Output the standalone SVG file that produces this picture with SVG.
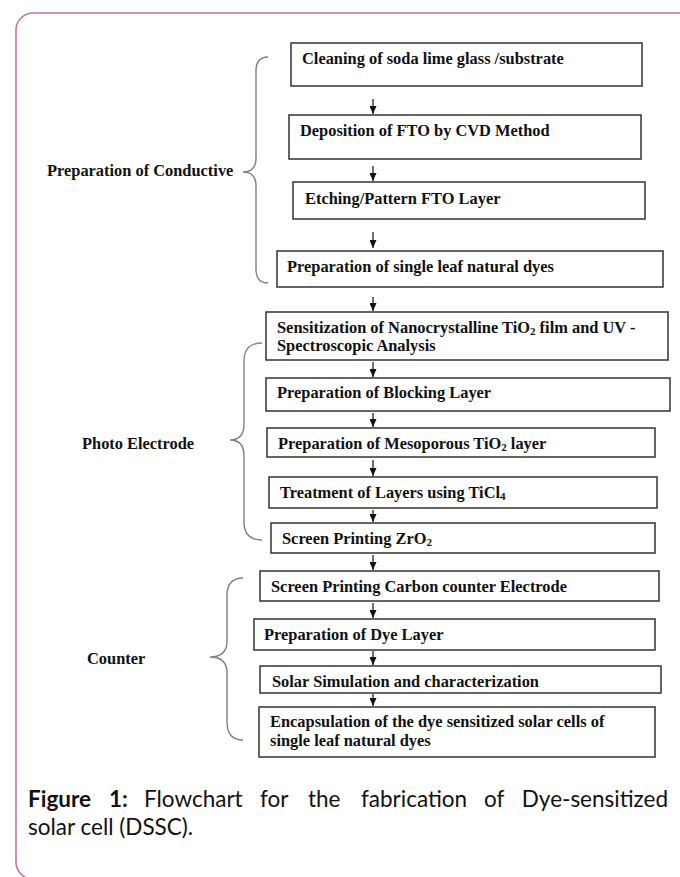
<svg xmlns="http://www.w3.org/2000/svg" width="680" height="877" viewBox="0 0 680 877">
<defs>
<marker id="ah" markerWidth="8" markerHeight="7" refX="8" refY="3.5" orient="auto" markerUnits="userSpaceOnUse" viewBox="0 0 8 7">
<path d="M0,0 L8,3.5 L0,7 Z" fill="#111"/>
</marker>
<style>
.box{fill:#fff;stroke:#333;stroke-width:1.5}
.t{font-family:"Liberation Serif","Times New Roman",serif;font-weight:bold;font-size:16.4px;fill:#111}
.sub{font-size:11px}
.brace{fill:none;stroke:#808080;stroke-width:1.4}
.arr{stroke:#111;stroke-width:1.2;fill:none}
.cap{font-family:Lato,"Open Sans",sans-serif;font-size:22.5px;fill:#111}
.capb{font-weight:bold}
</style>
</defs>
<rect x="16" y="13" width="720" height="866" rx="17" ry="17" fill="none" stroke="#c0779f" stroke-width="1.6"/>

<g id="braces">
<path class="brace" d="M268,57 Q256,57 256,71 L256,158 Q256,172 243,172 Q256,172 256,186 L256,269 Q256,283 268,283"/>
<path class="brace" d="M262,343 Q244,343 244,361 L244,424 Q244,440 230,440 Q244,440 244,456 L244,522 Q244,540 262,540"/>
<path class="brace" d="M243,578 Q227,578 227,596 L227,641 Q227,657 210,657 Q227,657 227,673 L227,722 Q227,740 243,740"/>
</g>

<g id="label-conductive"><text class="t" x="47" y="176">Preparation of Conductive</text></g>
<g id="label-photo"><text class="t" x="82" y="449">Photo Electrode</text></g>
<g id="label-counter"><text class="t" x="87" y="664">Counter</text></g>

<g id="connectors">
<line class="arr" x1="373" y1="99" x2="373" y2="114" marker-end="url(#ah)"/>
<line class="arr" x1="373" y1="166" x2="373" y2="181" marker-end="url(#ah)"/>
<line class="arr" x1="373" y1="232" x2="373" y2="248" marker-end="url(#ah)"/>
<line class="arr" x1="373" y1="297" x2="373" y2="311" marker-end="url(#ah)"/>
<line class="arr" x1="373" y1="362" x2="373" y2="377" marker-end="url(#ah)"/>
<line class="arr" x1="373" y1="413" x2="373" y2="427" marker-end="url(#ah)"/>
<line class="arr" x1="373" y1="460" x2="373" y2="476" marker-end="url(#ah)"/>
<line class="arr" x1="373" y1="510" x2="373" y2="522" marker-end="url(#ah)"/>
<line class="arr" x1="373" y1="555" x2="373" y2="570" marker-end="url(#ah)"/>
<line class="arr" x1="373" y1="603" x2="373" y2="618" marker-end="url(#ah)"/>
<line class="arr" x1="373" y1="651" x2="373" y2="665" marker-end="url(#ah)"/>
<line class="arr" x1="373" y1="694" x2="373" y2="706" marker-end="url(#ah)"/>
</g>

<g id="n1"><rect class="box" x="291" y="43" width="351" height="43"/><text class="t" x="302" y="64">Cleaning of soda lime glass /substrate</text></g>
<g id="n2"><rect class="box" x="289" y="115" width="352" height="44"/><text class="t" x="300" y="136">Deposition of FTO by CVD Method</text></g>
<g id="n3"><rect class="box" x="293" y="182" width="352" height="37"/><text class="t" x="305" y="204">Etching/Pattern FTO Layer</text></g>
<g id="n4"><rect class="box" x="277" y="251" width="386" height="36"/><text class="t" x="287" y="272">Preparation of single leaf natural dyes</text></g>
<g id="n5"><rect class="box" x="266" y="312" width="402" height="48"/><text class="t" x="277" y="333">Sensitization of Nanocrystalline TiO<tspan class="sub" dy="2">2</tspan><tspan dy="-2"> film and UV -</tspan></text><text class="t" x="277" y="351">Spectroscopic Analysis</text></g>
<g id="n6"><rect class="box" x="266" y="378" width="404" height="33"/><text class="t" x="277" y="398">Preparation of Blocking Layer</text></g>
<g id="n7"><rect class="box" x="267" y="428" width="388" height="29"/><text class="t" x="278" y="449">Preparation of Mesoporous TiO<tspan class="sub" dy="2">2</tspan><tspan dy="-2"> layer</tspan></text></g>
<g id="n8"><rect class="box" x="269" y="477" width="388" height="31"/><text class="t" x="280" y="498">Treatment of Layers using TiCl<tspan class="sub" dy="2">4</tspan></text></g>
<g id="n9"><rect class="box" x="271" y="523" width="384" height="30"/><text class="t" x="282" y="544">Screen Printing ZrO<tspan class="sub" dy="2">2</tspan></text></g>
<g id="n10"><rect class="box" x="260" y="571" width="399" height="30"/><text class="t" x="271" y="592">Screen Printing Carbon counter Electrode</text></g>
<g id="n11"><rect class="box" x="254" y="619" width="401" height="31"/><text class="t" x="264" y="640">Preparation of Dye Layer</text></g>
<g id="n12"><rect class="box" x="260" y="666" width="401" height="27"/><text class="t" x="272" y="687">Solar Simulation and characterization</text></g>
<g id="n13"><rect class="box" x="259" y="707" width="396" height="50"/><text class="t" x="270" y="727">Encapsulation of the dye sensitized solar cells of</text><text class="t" x="270" y="746">single leaf natural dyes</text></g>

<g id="caption">
<text class="cap capb" x="28" y="807">Figure</text>
<text class="cap capb" x="109" y="807">1:</text>
<text class="cap" x="144" y="807">Flowchart</text>
<text class="cap" x="260" y="807">for</text>
<text class="cap" x="308" y="807">the</text>
<text class="cap" x="361" y="807">fabrication</text>
<text class="cap" x="484" y="807">of</text>
<text class="cap" x="668" y="807" text-anchor="end">Dye-sensitized</text>
<text class="cap" x="28" y="835">solar cell (DSSC).</text>
</g>
</svg>
